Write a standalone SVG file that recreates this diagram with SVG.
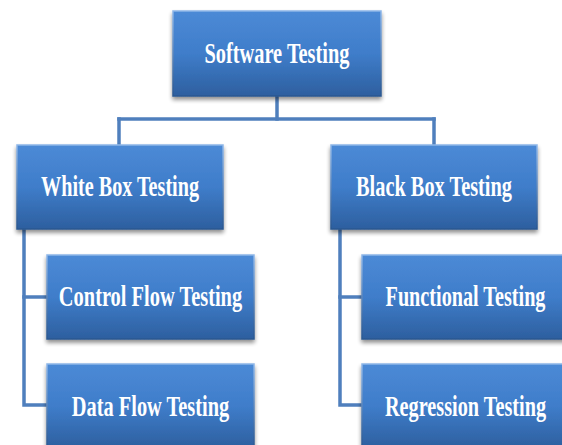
<svg xmlns="http://www.w3.org/2000/svg" width="562" height="445" viewBox="0 0 562 445">
<defs>
<linearGradient id="fillG" x1="0" y1="0" x2="0" y2="1">
<stop offset="0" stop-color="#4c8ad6"/>
<stop offset="0.5" stop-color="#3f7dca"/>
<stop offset="1" stop-color="#2d5f9f"/>
</linearGradient>
<linearGradient id="edgeG" x1="0" y1="0" x2="0" y2="1">
<stop offset="0" stop-color="#8db6e8"/>
<stop offset="1" stop-color="#2a5790"/>
</linearGradient>
<filter id="shadow" x="-10%" y="-10%" width="120%" height="130%">
<feGaussianBlur in="SourceAlpha" stdDeviation="2"/>
<feOffset dx="0" dy="3" result="b"/>
<feComponentTransfer><feFuncA type="linear" slope="0.45"/></feComponentTransfer>
<feMerge><feMergeNode/><feMergeNode in="SourceGraphic"/></feMerge>
</filter>
</defs>
<style>
.box{fill:url(#fillG);stroke:url(#edgeG);stroke-width:1.5;filter:url(#shadow)}
.lbl{font-family:"Liberation Serif","Times New Roman",serif;font-weight:bold;font-size:29px;fill:#ffffff;text-anchor:middle}
.conn{fill:none;stroke:#4f7fbd;stroke-width:3.5;stroke-linecap:square}
</style>
<rect width="562" height="445" fill="#ffffff"/>
<g id="connectors">
<path class="conn" d="M277 96 V119"/>
<path class="conn" d="M119 119 H434"/>
<path class="conn" d="M119 119 V145"/>
<path class="conn" d="M434 119 V145"/>
<path class="conn" d="M24 229 V405 H47"/>
<path class="conn" d="M24 297 H47"/>
<path class="conn" d="M340 229 V405 H362"/>
<path class="conn" d="M340 297 H362"/>
</g>
<g id="software-testing">
<rect class="box" x="173" y="11" width="208" height="85"/>
<text class="lbl" transform="translate(277 63) scale(0.65 1)" textLength="223" lengthAdjust="spacingAndGlyphs">Software Testing</text>
</g>
<g id="white-box-testing">
<rect class="box" x="17" y="145" width="206" height="84"/>
<text class="lbl" transform="translate(120 196) scale(0.65 1)" textLength="243" lengthAdjust="spacingAndGlyphs">White Box Testing</text>
</g>
<g id="black-box-testing">
<rect class="box" x="331" y="145" width="206" height="84"/>
<text class="lbl" transform="translate(434 196) scale(0.65 1)" textLength="240" lengthAdjust="spacingAndGlyphs">Black Box Testing</text>
</g>
<g id="control-flow-testing">
<rect class="box" x="47" y="255" width="207" height="84"/>
<text class="lbl" transform="translate(150.5 306) scale(0.65 1)" textLength="282" lengthAdjust="spacingAndGlyphs">Control Flow Testing</text>
</g>
<g id="data-flow-testing">
<rect class="box" x="47" y="364" width="207" height="84"/>
<text class="lbl" transform="translate(150.5 416) scale(0.65 1)" textLength="242" lengthAdjust="spacingAndGlyphs">Data Flow Testing</text>
</g>
<g id="functional-testing">
<rect class="box" x="362" y="255" width="207" height="84"/>
<text class="lbl" transform="translate(465.5 306) scale(0.65 1)" textLength="246" lengthAdjust="spacingAndGlyphs">Functional Testing</text>
</g>
<g id="regression-testing">
<rect class="box" x="362" y="364" width="207" height="84"/>
<text class="lbl" transform="translate(465.5 416) scale(0.65 1)" textLength="248" lengthAdjust="spacingAndGlyphs">Regression Testing</text>
</g>
</svg>
